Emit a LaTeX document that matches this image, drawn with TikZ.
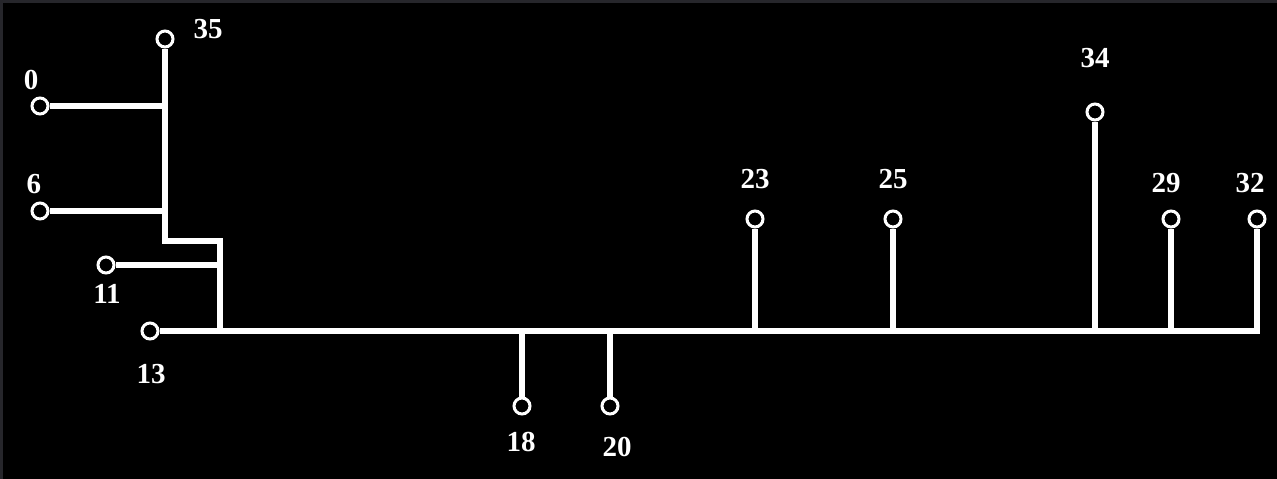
\documentclass[tikz,border=0pt]{standalone}
\usepackage{fontspec}
\setmainfont{Liberation Serif}
\usetikzlibrary{positioning}
\definecolor{frame}{RGB}{38,38,43}

\begin{document}
\begin{tikzpicture}[x=1pt,y=-1pt,line width=5.5pt,
    leaf/.style={circle,draw=white,fill=black,line width=3pt,minimum size=16pt,inner sep=0pt},
    lbl/.style={text=white,font=\fontsize{29}{34}\selectfont\bfseries,inner sep=0pt}]

                \fill[frame] (0,0) rectangle (1277,479);
                \fill[black] (3,3) rectangle (1277,479);

                \node[leaf] (n35) at (165,39) {};
                \node[leaf] (n0) at (40,106) {};
                \node[leaf] (n6) at (40,211) {};
                \node[leaf] (n11) at (106,265) {};
                \node[leaf] (n13) at (150,331) {};
                \node[leaf] (n18) at (522,406) {};
                \node[leaf] (n20) at (610,406) {};
                \node[leaf] (n23) at (755,219) {};
                \node[leaf] (n25) at (893,219) {};
                \node[leaf] (n34) at (1095,112) {};
                \node[leaf] (n29) at (1171,219) {};
                \node[leaf] (n32) at (1257,219) {};

                \coordinate (j0) at (165,106);
                \coordinate (j6) at (165,211);
                \coordinate (j1) at (165,241);
                \coordinate (j2) at (220,241);
                \coordinate (j11) at (220,265);
                \coordinate (j13) at (220,331);
                \coordinate (j18) at (522,331);
                \coordinate (j20) at (610,331);
                \coordinate (j23) at (755,331);
                \coordinate (j25) at (893,331);
                \coordinate (j34) at (1095,331);
                \coordinate (j29) at (1171,331);
                \coordinate (j32) at (1257,331);

                \draw[white] (n35) -- (j1) -- (j2) -- (j13);
                \draw[white] (n0) -- (j0) (n6) -- (j6) (n11) -- (j11);
                \draw[white] (n13) -- (j32) -- (n32);
                \foreach \k in {18,20,23,25,34,29}
                    \draw[white] (j\k) -- (n\k);

                \node[lbl] (t35) at (208,29) {35};
                \node[lbl] (t0) at (31,80) {0};
                \node[lbl] (t6) at (34,184) {6};
                \node[lbl] (t11) at (107,294) {11};
                \node[lbl] (t13) at (151,374) {13};
                \node[lbl] (t18) at (521,442) {18};
                \node[lbl] (t20) at (617,447) {20};
                \node[lbl] (t23) at (755,179) {23};
                \node[lbl] (t25) at (893,179) {25};
                \node[lbl] (t34) at (1095,58) {34};
                \node[lbl] (t29) at (1166,183) {29};
                \node[lbl] (t32) at (1250,183) {32};

            \end{tikzpicture}
\end{document}
